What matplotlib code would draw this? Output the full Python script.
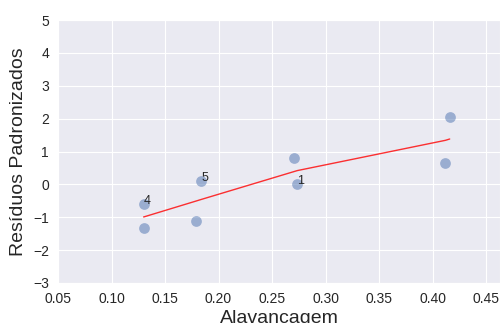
import matplotlib
matplotlib.use("Agg")
import matplotlib.pyplot as plt
import seaborn as sns

leverage = [0.2737, 0.2706, 0.4120, 0.1300, 0.1837, 0.1787, 0.1302, 0.4160]
std_resid = [0.005, 0.80, 0.66, -0.59, 0.097, -1.11, -1.32, 2.04]
labels = ["1", "", "", "4", "5", "", "", ""]

# lowess curve (already computed) over sorted leverage
lowess_x = [0.1300, 0.1302, 0.1787, 0.1837, 0.2706, 0.2737, 0.4120, 0.4160]
lowess_y = [-0.99, -0.99, -0.51, -0.46, 0.39, 0.42, 1.34, 1.38]

sns.set_style("darkgrid")
plt.rcParams["font.family"] = ["Liberation Sans", "DejaVu Sans"]

fig = plt.figure(figsize=(5, 3.23), dpi=100)
ax = fig.add_axes([58 / 500, 40 / 323, 442 / 500, 263 / 323])

ax.scatter(leverage, std_resid, s=60, color="#4c72b0", alpha=0.5, linewidths=0)
ax.plot(lowess_x, lowess_y, color="red", lw=1, alpha=0.8)
for x, y, t in zip(leverage, std_resid, labels):
    if t:
        ax.annotate(t, (x, y), fontsize=9, color="#262626")

ax.set_xlim(0.05, 0.463)
ax.set_ylim(-3, 5)
ax.set_xticks([0.05, 0.10, 0.15, 0.20, 0.25, 0.30, 0.35, 0.40, 0.45])
ax.set_yticks(range(-3, 6))
ax.tick_params(labelsize=10, pad=3)
ax.set_xlabel("Alavancagem", fontsize=14, labelpad=3)
ax.set_ylabel("Resíduos Padronizados", fontsize=14)

fig.savefig("out.png", dpi=100)
